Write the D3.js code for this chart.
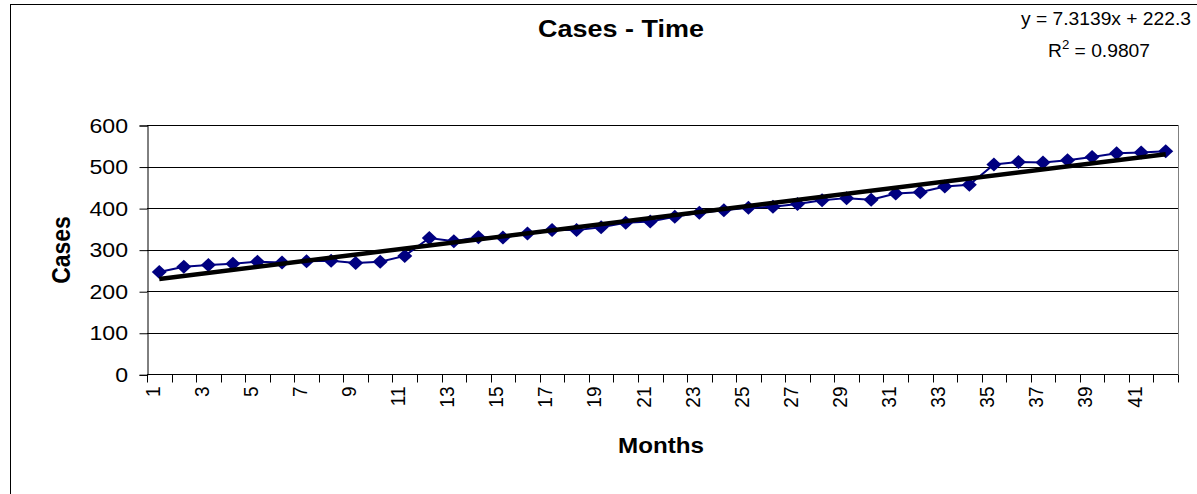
<!DOCTYPE html>
<html>
<head>
<meta charset="utf-8">
<script src="https://cdn.jsdelivr.net/npm/d3@7"></script>
<style>
  html, body { margin: 0; padding: 0; background: #fff; }
  svg { display: block; }
  text { font-family: "Liberation Sans", Arial, sans-serif; fill: #000; }
</style>
</head>
<body>
<svg id="chart" width="1197" height="494"></svg>
<script>
// ---- data ----
const months = d3.range(1, 43);
const cases = [246, 259, 263, 266, 271, 269, 272, 273, 268, 271, 285,
               328, 320, 330, 329, 339, 347, 347, 354, 365, 368, 379,
               389, 395, 401, 403, 410, 419, 424, 420, 435, 438,
               452, 456, 505, 511, 510, 515, 523, 532, 534, 537];
const yTicks = [0, 100, 200, 300, 400, 500, 600];
const xTickLabels = months.filter(m => m % 2 === 1);
const trendSlope = 7.3139;
const trendIntercept = 222.3;
const titleText = "Cases - Time";
const xTitle = "Months";
const yTitle = "Cases";

// ---- layout ----
const SX = 1.1; // slight horizontal stretch of reference text
const plot = { left: 147, right: 1178, top: 125, bottom: 374.3 };
const svg = d3.select("#chart");

svg.append("rect").attr("x", 10.5).attr("y", 4.5).attr("width", 1400).attr("height", 700)
  .attr("fill", "#fff").attr("stroke", "#000").attr("stroke-width", 1);

const x = d3.scaleBand().domain(months).range([plot.left, plot.right]).padding(0);
const y = d3.scaleLinear().domain([0, 600]).range([plot.bottom, plot.top]);
const cx = m => x(m) + x.bandwidth() / 2;

function htext(g, tx, ty, txt, size, weight, anchor) {
  return g.append("text")
    .attr("transform", `translate(${tx},${ty}) scale(${SX},1)`)
    .attr("font-size", size).attr("font-weight", weight || "normal")
    .attr("text-anchor", anchor || "middle").text(txt);
}

// gridlines
svg.append("g").selectAll("line").data(yTicks.filter(t => t > 0)).join("line")
  .attr("x1", plot.left).attr("x2", plot.right)
  .attr("y1", d => Math.round(y(d)) + 0.5).attr("y2", d => Math.round(y(d)) + 0.5)
  .attr("stroke", "#000").attr("stroke-width", 1);

// plot right border
svg.append("line").attr("x1", plot.right + 0.5).attr("x2", plot.right + 0.5)
  .attr("y1", plot.top).attr("y2", plot.bottom).attr("stroke", "#808080");

// y axis
const yAxis = d3.axisLeft(y).tickValues(yTicks).tickSize(8).tickPadding(0).tickFormat("");
const gy = svg.append("g").attr("transform", `translate(${plot.left + 0.5},0.5)`).call(yAxis);
gy.select(".domain").attr("stroke", "#000");
gy.selectAll(".tick line").attr("stroke", "#000");
const gyl = svg.append("g");
yTicks.forEach(t => htext(gyl, 128, y(t) + 7.5, String(t), 21, "normal", "end"));

// x axis
const gx = svg.append("g").attr("transform", `translate(0,${Math.round(plot.bottom) + 0.5})`);
gx.append("line").attr("x1", plot.left).attr("x2", plot.right).attr("stroke", "#000");
const boundaries = months.map(m => x(m)).concat([x(42) + x.bandwidth()]);
gx.selectAll("line.tk").data(boundaries).join("line").attr("class", "tk")
  .attr("x1", d => Math.round(d) + 0.5).attr("x2", d => Math.round(d) + 0.5)
  .attr("y1", 0).attr("y2", 8).attr("stroke", "#000");
gx.selectAll("text").data(xTickLabels).join("text")
  .attr("transform", d => `translate(${cx(d) - 7},12) scale(${SX},1) rotate(-90)`)
  .attr("font-size", 19).attr("text-anchor", "end").attr("dy", "0.35em")
  .text(d => d);

// series line
const line = d3.line().x((d, i) => cx(months[i])).y(d => y(d));
svg.append("path").datum(cases).attr("d", line)
  .attr("fill", "none").attr("stroke", "#000080").attr("stroke-width", 2);

// markers
svg.append("g").selectAll("path").data(cases).join("path")
  .attr("d", (d, i) => {
    const px = cx(months[i]), py = y(d), w = 7.5, h = 7;
    return `M${px - w},${py}L${px},${py - h}L${px + w},${py}L${px},${py + h}Z`;
  })
  .attr("fill", "#000080");

// trend line
const trendPts = [months[0], months[months.length - 1]].map(m => [m, trendSlope * m + trendIntercept]);
svg.append("line")
  .attr("x1", cx(trendPts[0][0])).attr("y1", y(trendPts[0][1]))
  .attr("x2", cx(trendPts[1][0])).attr("y2", y(trendPts[1][1]))
  .attr("stroke", "#000").attr("stroke-width", 4.5);

// titles
htext(svg, 621, 37, titleText, 24.5, "bold");
htext(svg, 661, 453, xTitle, 22, "bold");
svg.append("text")
  .attr("transform", `translate(70,250) scale(${SX},1) rotate(-90)`)
  .attr("font-size", 23).attr("font-weight", "bold").attr("text-anchor", "middle").text(yTitle);

// equation
const eq = svg.append("g");
htext(eq, 1191, 25, `y = ${trendSlope}x + ${trendIntercept}`, 17.5, "normal", "end");
const r2 = eq.append("text")
  .attr("transform", `translate(1150,57) scale(${SX},1)`)
  .attr("font-size", 17.5).attr("text-anchor", "end");
r2.append("tspan").text("R");
r2.append("tspan").attr("font-size", 12).attr("dy", -8).text("2");
r2.append("tspan").attr("dy", 8).text("\u00a0= 0.9807");
</script>
</body>
</html>
